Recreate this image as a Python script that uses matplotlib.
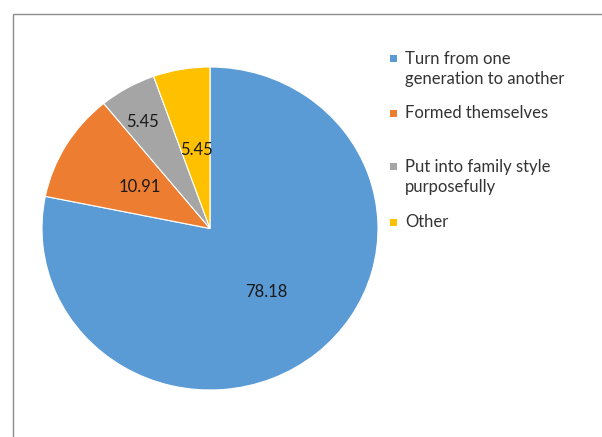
import matplotlib
matplotlib.use("Agg")
import matplotlib.pyplot as plt
from matplotlib.patches import Rectangle

categories = ["Turn from one\ngeneration to another", "Formed themselves",
              "Put into family style\npurposefully", "Other"]
values = [78.18, 10.91, 5.45, 5.45]
colors = ["#5B9BD5", "#ED7D31", "#A5A5A5", "#FFC000"]

# label anchor points (axes data coords) for each slice value
label_pos = [(0.333, -0.391), (-0.417, 0.257), (-0.399, 0.661), (-0.079, 0.486)]
# legend entry vertical centres (pixels from top of figure)
legend_y = [69, 113, 177, 222]

W, H = 602, 437
fig = plt.figure(figsize=(W / 100, H / 100), dpi=100)
fig.patch.set_facecolor("white")

# chart area border (runs off the right and bottom edges)
fig.patches.append(Rectangle((12.5 / W, -0.1), 1.2, (H - 14.5) / H + 0.1,
                             transform=fig.transFigure, fill=False,
                             edgecolor="#8c8c8c", linewidth=1.0))

cx, cy, rx, ry = 210, 228.5, 168, 161.5
ax = fig.add_axes([(cx - rx) / W, (H - cy - ry) / H, 2 * rx / W, 2 * ry / H])
wedges, _ = ax.pie(values, colors=colors, startangle=90, counterclock=False,
                   wedgeprops=dict(edgecolor="white", linewidth=0.8))
ax.set_aspect("auto")
ax.set_xlim(-1, 1)
ax.set_ylim(-1, 1)
ax.axis("off")

font = "Lato"
for v, (x, y) in zip(values, label_pos):
    ax.text(x, y, f"{v:.2f}", ha="center", va="center", fontsize=12,
            family=font, color="#1a1a1a")

# legend
for lab, col, yc in zip(categories, colors, legend_y):
    nlines = lab.count("\n") + 1
    top = yc - (nlines - 1) * 11
    fig.patches.append(Rectangle((390 / W, 1 - (top + 4) / H), 7 / W, 7 / H,
                                 transform=fig.transFigure, facecolor=col,
                                 edgecolor="none"))
    fig.text(405 / W, 1 - yc / H, lab, ha="left", va="center", fontsize=12,
             family=font, color="#333333", linespacing=1.25)

fig.savefig("out.png", dpi=100, facecolor="white")
